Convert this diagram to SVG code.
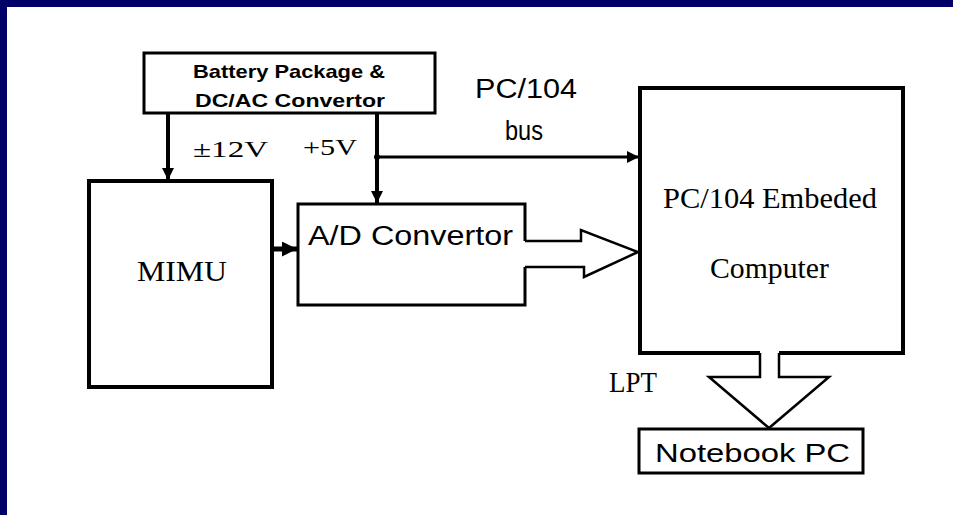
<svg xmlns="http://www.w3.org/2000/svg" width="953" height="515" viewBox="0 0 953 515">
<style>
.box{fill:#fff;stroke:#000;stroke-width:3}
.thick{stroke-width:4}
.sans{font-family:"Liberation Sans","DejaVu Sans",sans-serif;fill:#000}
.serif{font-family:"Liberation Serif","DejaVu Serif",serif;fill:#000}
.wire{fill:none;stroke:#000}
.block{fill:none;stroke:#000;stroke-width:2.5}
</style>
<defs>
<marker id="ah" viewBox="0 0 10 10" refX="10" refY="5" markerWidth="3" markerHeight="3" orient="auto" markerUnits="strokeWidth">
<path d="M0,0 L10,5 L0,10 z" fill="#000"/>
</marker>
<marker id="ah2" viewBox="0 0 10 10" refX="10" refY="5" markerWidth="4" markerHeight="4" orient="auto" markerUnits="strokeWidth">
<path d="M0,0 L10,5 L0,10 z" fill="#000"/>
</marker>
</defs>
<rect x="0" y="0" width="953" height="515" fill="#fff"/>
<rect x="0" y="0" width="953" height="7" fill="#000068"/>
<rect x="0" y="0" width="7" height="515" fill="#000068"/>

<g id="battery">
<rect class="box" x="144" y="53" width="291" height="60"/>
<text class="sans" x="193" y="78" font-size="19" font-weight="bold" textLength="192" lengthAdjust="spacingAndGlyphs">Battery Package &amp;</text>
<text class="sans" x="195" y="107" font-size="19" font-weight="bold" textLength="190" lengthAdjust="spacingAndGlyphs">DC/AC Convertor</text>
</g>

<g id="mimu">
<rect class="box thick" x="89" y="181" width="183" height="206"/>
<text class="serif" x="137" y="281" font-size="30" textLength="90" lengthAdjust="spacingAndGlyphs">MIMU</text>
</g>

<g id="adconv">
<path class="box" d="M525,241 L525,204 L298,204 L298,305 L525,305 L525,267"/>
<text class="sans" x="308" y="245" font-size="27" textLength="205" lengthAdjust="spacingAndGlyphs">A/D Convertor</text>
</g>

<g id="pc104">
<path class="box thick" d="M760,353 L640,353 L640,88 L903,88 L903,353 L779,353"/>
<text class="serif" x="663" y="208" font-size="29" textLength="214" lengthAdjust="spacingAndGlyphs">PC/104 Embeded</text>
<text class="serif" x="710" y="278" font-size="29" textLength="119" lengthAdjust="spacingAndGlyphs">Computer</text>
</g>

<g id="notebook">
<rect class="box" x="639" y="429" width="224" height="44"/>
<text class="sans" x="655" y="462" font-size="25" textLength="195" lengthAdjust="spacingAndGlyphs">Notebook PC</text>
</g>

<g id="connectors">
<line class="wire" x1="168" y1="113" x2="168" y2="180" stroke-width="4" marker-end="url(#ah)"/>
<line class="wire" x1="377" y1="113" x2="377" y2="203" stroke-width="4" marker-end="url(#ah)"/>
<line class="wire" x1="377" y1="157" x2="639" y2="157" stroke-width="3" marker-end="url(#ah2)"/>
<circle cx="377" cy="157" r="3" fill="#000"/>
<line class="wire" x1="272" y1="249" x2="297" y2="249" stroke-width="5" marker-end="url(#ah)"/>
<path class="block" d="M525,241 L581,241 L581,230 L638,252 L584,277 L584,267 L525,267"/>
<path class="block" d="M760,353 L760,377 L709,377 L769,428 L829,377 L779,377 L779,353"/>
</g>

<g id="labels">
<text class="serif" x="193" y="157" font-size="24" textLength="75" lengthAdjust="spacingAndGlyphs">±12V</text>
<text class="serif" x="303" y="155" font-size="24" textLength="54" lengthAdjust="spacingAndGlyphs">+5V</text>
<text class="sans" x="475" y="98" font-size="27" textLength="102" lengthAdjust="spacingAndGlyphs">PC/104</text>
<text class="sans" x="505" y="140" font-size="27" textLength="38" lengthAdjust="spacingAndGlyphs">bus</text>
<text class="serif" x="609" y="392" font-size="30" textLength="48" lengthAdjust="spacingAndGlyphs">LPT</text>
</g>
</svg>
